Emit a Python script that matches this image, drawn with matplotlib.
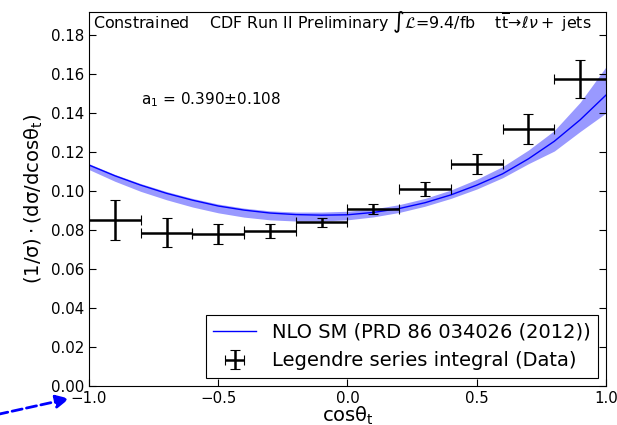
import matplotlib
matplotlib.use("Agg")
import matplotlib.pyplot as plt

# data: normalised bin contents, Legendre series integral
bin_centers = [-0.9, -0.7, -0.5, -0.3, -0.1, 0.1, 0.3, 0.5, 0.7, 0.9]
bin_halfwidth = [0.1] * 10
data_vals = [0.0851, 0.0786, 0.0779, 0.0795, 0.0839, 0.0908, 0.1010, 0.1138, 0.1318, 0.1574]
data_errs = [0.0102, 0.0075, 0.0053, 0.0036, 0.0024, 0.0024, 0.0035, 0.0052, 0.0075, 0.0097]

# NLO SM prediction, with its band
curve_x = [-1.0, -0.9, -0.8, -0.7, -0.6, -0.5, -0.4, -0.3, -0.2, -0.1, 0.0,
           0.1, 0.2, 0.3, 0.4, 0.5, 0.6, 0.7, 0.8, 0.9, 1.0]
curve_y = [0.1133, 0.1078, 0.1030, 0.0988, 0.0953, 0.0923, 0.0902, 0.0887, 0.0879, 0.0876, 0.0878,
           0.0890, 0.0910, 0.0940, 0.0980, 0.1030, 0.1088, 0.1165, 0.1255, 0.1365, 0.1492]
band_lo = [0.1110, 0.1050, 0.0998, 0.0955, 0.0918, 0.0888, 0.0866, 0.0852, 0.0846, 0.0846, 0.0852,
           0.0867, 0.0890, 0.0922, 0.0962, 0.1010, 0.1068, 0.1140, 0.1205, 0.1305, 0.1400]
band_hi = [0.1140, 0.1085, 0.1038, 0.0997, 0.0962, 0.0933, 0.0912, 0.0898, 0.0892, 0.0892, 0.0896,
           0.0908, 0.0930, 0.0962, 0.1005, 0.1060, 0.1125, 0.1210, 0.1310, 0.1455, 0.1637]

plt.rcParams['xtick.direction'] = 'in'
plt.rcParams['ytick.direction'] = 'in'
plt.rcParams['ytick.right'] = True
plt.rcParams['xtick.major.size'] = 5
plt.rcParams['ytick.major.size'] = 5
plt.rcParams['mathtext.fontset'] = 'dejavusans'

fig = plt.figure(figsize=(6.17, 4.25), dpi=100)
ax = fig.add_axes([0.1442, 0.0918, 0.838, 0.880])

ax.fill_between(curve_x, band_lo, band_hi, color='#9999ff', lw=0)
ax.plot(curve_x, curve_y, color='blue', lw=1, label='NLO SM (PRD 86 034026 (2012))')
ax.errorbar(bin_centers, data_vals, xerr=bin_halfwidth, yerr=data_errs, fmt='none',
            ecolor='black', elinewidth=1.8, capsize=3.5, capthick=0.8,
            label='Legendre series integral (Data)')

ax.set_xlim(-1.0, 1.0)
ax.set_ylim(0.0, 0.1918)
ax.set_xticks([-1.0, -0.5, 0.0, 0.5, 1.0])
ax.set_yticks([0.00, 0.02, 0.04, 0.06, 0.08, 0.10, 0.12, 0.14, 0.16, 0.18])
ax.tick_params(labelsize=10.8)
ax.set_xlabel(r'$\mathrm{cos\theta_t}$', fontsize=14, labelpad=-0.5)
ax.set_ylabel(r'$\mathrm{(1/\sigma)\cdot(d\sigma/dcos\theta_t)}$', fontsize=14)

ax.text(-0.985, 0.1865, r'Constrained    CDF Run II Preliminary $\int\mathcal{L}$=9.4/fb    '
        r'$\mathrm{t}\overline{\mathrm{t}}\!\rightarrow\!\ell\nu+$ jets', fontsize=11.4,
        va='center', ha='left')
ax.text(-0.80, 0.1467, r'$\mathrm{a_1}$ = 0.390$\pm$0.108', fontsize=11, va='center')

leg = ax.legend(loc='lower right', fontsize=14, fancybox=False, framealpha=1,
                edgecolor='black', borderaxespad=0.4, handlelength=2.2)
leg.get_frame().set_linewidth(0.8)

# dashed arrow pointing at the corner
ax.annotate('', xy=(72, 27), xycoords='figure pixels', xytext=(-5, 10),
            textcoords='figure pixels', annotation_clip=False,
            arrowprops=dict(arrowstyle='-|>', color='blue', lw=2, ls='--',
                            mutation_scale=20))

fig.savefig('out.png', dpi=100)
